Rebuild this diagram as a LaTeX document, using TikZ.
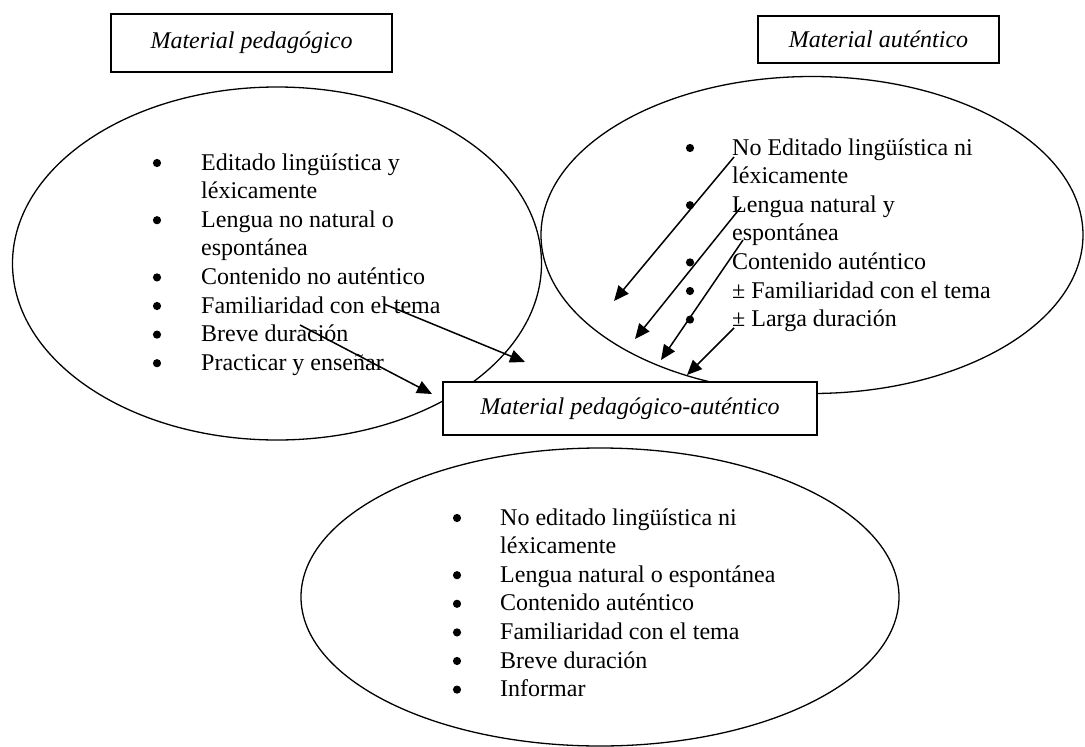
\documentclass[tikz,border=0pt]{standalone}
\usepackage{fontspec}
\setmainfont{Liberation Serif}
\usetikzlibrary{shapes.geometric,arrows.meta}
\tikzset{
  oval/.style={draw, ellipse, line width=1.3pt, inner sep=0pt},
  titlebox/.style={draw, line width=2pt, fill=white, inner sep=0pt, font=\fontsize{24}{28.6}\selectfont\itshape},
  listtext/.style={anchor=base west, inner sep=0pt, font=\fontsize{24}{28.6}\selectfont},
  conn/.style={line width=1.5pt, -{Triangle[length=15pt,width=13pt]}},
  bulletdot/.style={fill=black}
}
\begin{document}
\begin{tikzpicture}[x=1pt,y=-1pt]
\useasboundingbox (0,0) rectangle (1085,747);
% ellipses
\node[oval, minimum width=529pt, minimum height=353pt] (lell) at (277,263.5) {};
\node[oval, minimum width=542pt, minimum height=317pt] (rell) at (812,235) {};
\node[oval, minimum width=598pt, minimum height=298pt] (bell) at (600,597) {};
% boxes
\node[titlebox, minimum width=281pt, minimum height=58pt] (bped) at (251.5,43) {Material pedagógico};
\node[titlebox, minimum width=241pt, minimum height=47pt] (baut) at (878.5,39.5) {Material auténtico};
\node[titlebox, minimum width=374pt, minimum height=53pt] (bmix) at (630,408.5) {Material pedagógico-auténtico};
% lists
\node[listtext] (ltxt) at (201,170) {\begin{tabular}[t]{@{}l@{}}
Editado lingüística y\\
léxicamente\\
Lengua no natural o\\
espontánea\\
Contenido no auténtico\\
Familiaridad con el tema\\
Breve duración\\
Practicar y enseñar
\end{tabular}};
\node[listtext] (rtxt) at (732,155) {\begin{tabular}[t]{@{}l@{}}
No Editado lingüística ni\\
léxicamente\\
Lengua natural y\\
espontánea\\
Contenido auténtico\\
± Familiaridad con el tema\\
± Larga duración
\end{tabular}};
\node[listtext] (btxt) at (500,525) {\begin{tabular}[t]{@{}l@{}}
No editado lingüística ni\\
léxicamente\\
Lengua natural o espontánea\\
Contenido auténtico\\
Familiaridad con el tema\\
Breve duración\\
Informar
\end{tabular}};
% bullets
\foreach \k in {0,2,4,5,6,7} \fill[bulletdot] (157,{170+28.6*\k-7}) circle[radius=4.1pt];
\foreach \k in {0,2,4,5,6} \fill[bulletdot] (690,{155+28.6*\k-7}) circle[radius=4.1pt];
\foreach \k in {0,2,3,4,5,6} \fill[bulletdot] (457,{525+28.6*\k-7}) circle[radius=4.1pt];
% arrow end points
\coordinate (l1s) at (384,304); \coordinate (l1e) at (525,362);
\coordinate (l2s) at (300,325); \coordinate (l2e) at (432,394);
\coordinate (r1s) at (734,157); \coordinate (r1e) at (614,301);
\coordinate (r2s) at (741,207); \coordinate (r2e) at (635,339);
\coordinate (r3s) at (743,240); \coordinate (r3e) at (661,360);
\coordinate (r4s) at (734,328); \coordinate (r4e) at (687,375);
\draw[conn] (l1s) -- (l1e);
\draw[conn] (l2s) -- (l2e);
\draw[conn] (r1s) -- (r1e);
\draw[conn] (r2s) -- (r2e);
\draw[conn] (r3s) -- (r3e);
\draw[conn] (r4s) -- (r4e);
\end{tikzpicture}
\end{document}
